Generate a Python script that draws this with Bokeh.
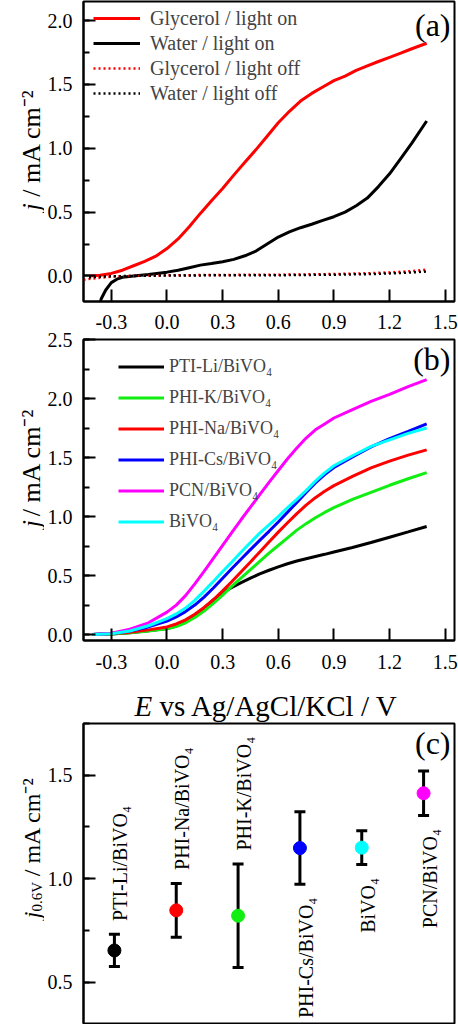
import numpy as np
from bokeh.plotting import figure
from bokeh.models import (ColumnDataSource, Legend, LegendItem, Label, FixedTicker, LinearAxis,
                          SingleIntervalTicker, PrintfTickFormatter, Whisker, TeeHead, Range1d,
                          CustomLabelingPolicy)
from bokeh.layouts import column, row
from bokeh.embed import file_html
from bokeh.resources import INLINE
from bokeh.core.properties import value

FONT = "Liberation Serif"

# ---------------- data: panel (a) ----------------
E_gly_on = [-0.42, -0.36, -0.30, -0.24, -0.18, -0.12, -0.06, 0.0, 0.06, 0.12, 0.18, 0.24, 0.30,
            0.36, 0.42, 0.48, 0.54, 0.60, 0.66, 0.72, 0.78, 0.84, 0.90, 0.96, 1.02, 1.08, 1.14,
            1.20, 1.26, 1.32, 1.40]
J_gly_on = [0.0, 0.005, 0.02, 0.045, 0.08, 0.115, 0.155, 0.215, 0.29, 0.385, 0.49, 0.59, 0.685,
            0.79, 0.89, 0.99, 1.095, 1.20, 1.29, 1.37, 1.43, 1.48, 1.53, 1.565, 1.61, 1.645, 1.68,
            1.713, 1.745, 1.78, 1.823]
E_wat_on = [-0.365, -0.355, -0.33, -0.30, -0.27, -0.24, -0.18, -0.10, 0.0, 0.06, 0.12, 0.18, 0.24,
            0.30, 0.36, 0.42, 0.48, 0.54, 0.60, 0.66, 0.72, 0.78, 0.84, 0.90, 0.96, 1.02, 1.08,
            1.14, 1.20, 1.26, 1.32, 1.40]
J_wat_on = [-0.25, -0.18, -0.11, -0.052, -0.025, -0.01, 0.0, 0.012, 0.03, 0.045, 0.065, 0.085,
            0.098, 0.112, 0.13, 0.158, 0.195, 0.25, 0.305, 0.345, 0.378, 0.405, 0.435, 0.464, 0.50,
            0.55, 0.61, 0.70, 0.80, 0.92, 1.04, 1.214]
E_gly_off = [-0.45, -0.40, -0.30, -0.20, 0.0, 0.30, 0.60, 0.90, 1.10, 1.20, 1.30, 1.40]
J_gly_off = [-0.03, -0.02, -0.005, 0.0, 0.005, 0.008, 0.01, 0.015, 0.022, 0.028, 0.036, 0.05]
E_wat_off = [-0.42, -0.40, -0.30, -0.20, 0.0, 0.30, 0.60, 0.90, 1.10, 1.20, 1.30, 1.40]
J_wat_off = [-0.012, -0.008, -0.003, 0.0, 0.004, 0.005, 0.006, 0.01, 0.015, 0.02, 0.026, 0.035]

# ---------------- data: panel (b) ----------------
E_b = [-0.40, -0.30, -0.20, -0.10, 0.0, 0.05, 0.10, 0.15, 0.20, 0.25, 0.30, 0.35, 0.40, 0.45,
       0.50, 0.55, 0.60, 0.65, 0.70, 0.75, 0.80, 0.85, 0.90, 1.00, 1.10, 1.20, 1.30, 1.40]
J_PTI_Li = [0.0, 0.005, 0.015, 0.032, 0.052, 0.073, 0.106, 0.155, 0.222, 0.294, 0.358, 0.40, 0.44,
            0.478, 0.515, 0.545, 0.574, 0.60, 0.623, 0.643, 0.662, 0.68, 0.70, 0.738, 0.78,
            0.825, 0.87, 0.916]
J_PHI_K = [0.0, 0.005, 0.015, 0.03, 0.05, 0.068, 0.10, 0.145, 0.20, 0.265, 0.335, 0.41, 0.48,
           0.55, 0.62, 0.69, 0.755, 0.82, 0.885, 0.94, 0.99, 1.035, 1.075, 1.145, 1.205, 1.265,
           1.32, 1.372]
J_PHI_Na = [0.0, 0.008, 0.02, 0.04, 0.065, 0.09, 0.125, 0.172, 0.23, 0.295, 0.37, 0.45, 0.533,
            0.615, 0.70, 0.785, 0.868, 0.948, 1.025, 1.097, 1.16, 1.215, 1.262, 1.34, 1.412, 1.47,
            1.52, 1.565]
J_PHI_Cs = [0.0, 0.01, 0.03, 0.065, 0.115, 0.15, 0.195, 0.25, 0.318, 0.395, 0.478, 0.56, 0.64,
            0.72, 0.798, 0.875, 0.954, 1.037, 1.12, 1.205, 1.285, 1.355, 1.415, 1.505, 1.59, 1.66,
            1.722, 1.785]
J_PCN = [0.0, 0.012, 0.045, 0.10, 0.19, 0.25, 0.33, 0.43, 0.535, 0.645, 0.755, 0.865, 0.975,
         1.08, 1.185, 1.29, 1.39, 1.49, 1.58, 1.665, 1.735, 1.785, 1.835, 1.905, 1.975, 2.035,
         2.10, 2.16]
J_BiVO4 = [0.0, 0.008, 0.03, 0.075, 0.135, 0.175, 0.225, 0.29, 0.368, 0.45, 0.535, 0.615, 0.70,
           0.78, 0.86, 0.93, 1.0, 1.075, 1.145, 1.22, 1.30, 1.37, 1.43, 1.515, 1.595, 1.65,
           1.705, 1.75]
b_names = ["PTI-Li/BiVO\u2084", "PHI-K/BiVO\u2084", "PHI-Na/BiVO\u2084", "PHI-Cs/BiVO\u2084",
           "PCN/BiVO\u2084", "BiVO\u2084"]
b_series = [J_PTI_Li, J_PHI_K, J_PHI_Na, J_PHI_Cs, J_PCN, J_BiVO4]
b_colors = ["#000000", "#11ee11", "#ff0000", "#0000ff", "#ff00ff", "#00ffff"]

# ---------------- data: panel (c) ----------------
c_names = ["PTI-Li/BiVO\u2084", "PHI-Na/BiVO\u2084", "PHI-K/BiVO\u2084", "PHI-Cs/BiVO\u2084",
           "BiVO\u2084", "PCN/BiVO\u2084"]
c_j06 = [0.653, 0.847, 0.821, 1.148, 1.150, 1.413]
c_err = [0.078, 0.13, 0.25, 0.175, 0.082, 0.108]
c_colors = ["#000000", "#ff0000", "#11ee11", "#0000ff", "#00ffff", "#ff00ff"]
c_place = ["above", "above", "above", "below", "below", "below"]

x_ticks = [-0.3, 0.0, 0.3, 0.6, 0.9, 1.2, 1.5]

LW = 44          # width of the side strip that carries the y titles
PW = 458 - LW    # width of each panel figure


def style(p, xticks=True):
    p.grid.grid_line_color = None
    p.outline_line_color = "black"
    p.outline_line_width = 2
    p.background_fill_color = "white"
    p.border_fill_color = "white"
    for ax in p.axis:
        ax.axis_line_width = 2
        ax.major_tick_line_width = 2
        ax.minor_tick_line_width = 2
        ax.major_tick_out = 0
        ax.major_tick_in = 12
        ax.minor_tick_out = 0
        ax.minor_tick_in = 6
        ax.major_label_text_font = FONT
        ax.major_label_text_font_size = "20px"
        ax.major_label_text_color = "black"
        ax.major_label_standoff = 11
    p.yaxis.ticker = SingleIntervalTicker(interval=0.5, num_minor_ticks=2)
    p.yaxis.formatter = PrintfTickFormatter(format="%.1f")
    if xticks:
        p.xaxis.ticker = FixedTicker(ticks=x_ticks)
        p.xaxis.formatter = PrintfTickFormatter(format="%.1f")
        p.xaxis.minor_tick_line_color = None


def panel_tag(p, text, y):
    p.add_layout(Label(x=367, y=y, x_units="screen", y_units="screen", text=text,
                       text_font=FONT, text_font_size="32px", text_align="right",
                       text_baseline="middle", text_color="black"))


def strip(width, top, bottom):
    """A blank figure whose data units are page pixels (y grows downward)."""
    s = figure(width=width, height=bottom - top, x_range=Range1d(0, width),
               y_range=Range1d(bottom, top), output_backend="svg", toolbar_location=None,
               x_axis_location=None, y_axis_location=None, min_border=0,
               min_border_left=0, min_border_right=0, min_border_top=0, min_border_bottom=0)
    s.grid.grid_line_color = None
    s.outline_line_color = None
    return s


def txt(s, x, y, text, size, italic=False, angle=0.0, align="left"):
    s.text(x=[x], y=[y], text=[text], angle=angle, text_font=value(FONT),
           text_font_size=value(f"{size}px"),
           text_font_style="italic" if italic else "normal",
           text_align=align, text_baseline="alphabetic", text_color="black")


def ytitle(s, xb, y0, size, sub=None, sub_size=14):
    up = np.pi / 2
    txt(s, xb, y0, "j", size, italic=True, angle=up)
    y = y0 - 0.278 * size
    if sub is not None:
        txt(s, xb + 5, y, sub, sub_size, angle=up)
        y -= 1.97 * sub_size
    y -= 0.25 * size
    txt(s, xb, y, "/ mA cm\u207b\u00b2", size, angle=up)


# ================= panel (a) =================
pa = figure(width=PW, height=303, x_range=Range1d(-0.45, 1.55), y_range=Range1d(-0.2, 2.15),
            output_backend="svg", toolbar_location=None,
            min_border_left=83 - LW, min_border_right=4, min_border_top=1, min_border_bottom=2)
style(pa)
# the tick labels for this frame are drawn by panel (b)'s top axis
pa.xaxis.major_label_text_font_size = "0px"
pa.xaxis.major_label_policy = CustomLabelingPolicy(code="return []")
pa.xaxis.major_label_standoff = 0
ra1 = pa.line(E_gly_on, J_gly_on, line_color="#ff0000", line_width=3)
ra2 = pa.line(E_wat_on, J_wat_on, line_color="black", line_width=3)
ra3 = pa.line(E_gly_off, J_gly_off, line_color="#ff0000", line_width=2.5, line_dash="2 3")
ra4 = pa.line(E_wat_off, J_wat_off, line_color="black", line_width=2.5, line_dash="2 3")
leg_a = Legend(items=[LegendItem(label="Glycerol / light on", renderers=[ra1]),
                      LegendItem(label="Water / light on", renderers=[ra2]),
                      LegendItem(label="Glycerol / light off", renderers=[ra3]),
                      LegendItem(label="Water / light off", renderers=[ra4])],
               location=(10, 196), label_text_font=FONT, label_text_font_size="20px",
               glyph_width=47, glyph_height=24, label_height=24, spacing=1, padding=0, margin=0,
               border_line_color=None, background_fill_alpha=0, label_standoff=10)
pa.add_layout(leg_a)
panel_tag(pa, "(a)", 277)
sa = strip(LW, 0, 303)
ytitle(sa, 31, 211, 26)

# ================= panel (b) =================
pb = figure(width=PW, height=377, x_range=Range1d(-0.45, 1.55), y_range=Range1d(-0.05, 2.5),
            output_backend="svg", toolbar_location=None,
            min_border_left=83 - LW, min_border_right=4, min_border_top=36, min_border_bottom=40)
style(pb)
pb.xaxis.major_label_standoff = 14
# tick labels that belong under panel (a)'s frame
top_ax = LinearAxis(ticker=FixedTicker(ticks=x_ticks), formatter=PrintfTickFormatter(format="%.1f"),
                    axis_line_color=None, major_tick_line_color=None, minor_tick_line_color=None,
                    major_label_standoff=5, major_label_text_font=FONT,
                    major_label_text_font_size="20px", major_label_text_color="black")
pb.add_layout(top_ax, "above")
items_b = []
for name, ys, col in zip(b_names, b_series, b_colors):
    r = pb.line(E_b, ys, line_color=col, line_width=3)
    items_b.append(LegendItem(label=name, renderers=[r]))
leg_b = Legend(items=items_b, location=(35, 108), label_text_font=FONT,
               label_text_font_size="18px", glyph_width=46, glyph_height=21, label_height=21,
               spacing=10, padding=0, margin=0, border_line_color=None,
               background_fill_alpha=0, label_standoff=5)
pb.add_layout(leg_b)
panel_tag(pb, "(b)", 282)
sb = strip(LW, 303, 680)
ytitle(sb, 31, 538, 26)

# x title under panel (b)
sx = strip(458, 680, 722)
txt(sx, 134, 705, "E", 29, italic=True)
txt(sx, 134 + 0.611 * 29 + 0.25 * 29, 705, "vs Ag/AgCl/KCl / V", 29)

# ================= panel (c) =================
pc = figure(width=PW, height=302, x_range=Range1d(0.5, 6.5), y_range=Range1d(0.3, 1.75),
            output_backend="svg", toolbar_location=None,
            min_border_left=83 - LW, min_border_right=4, min_border_top=1, min_border_bottom=1)
style(pc, xticks=False)
pc.xaxis.visible = False
pos = list(range(1, len(c_names) + 1))
src_c = ColumnDataSource(dict(x=pos, y=c_j06,
                              upper=[v + e for v, e in zip(c_j06, c_err)],
                              lower=[v - e for v, e in zip(c_j06, c_err)],
                              color=c_colors))
pc.add_layout(Whisker(source=src_c, base="x", upper="upper", lower="lower", dimension="height",
                      line_color="black", line_width=3,
                      upper_head=TeeHead(size=11, line_width=3, line_color="black"),
                      lower_head=TeeHead(size=11, line_width=3, line_color="black")))
pc.scatter("x", "y", source=src_c, size=13, fill_color="color", line_color="color")
gap = 0.065
ab = [i for i, pl in enumerate(c_place) if pl == "above"]
be = [i for i, pl in enumerate(c_place) if pl == "below"]
src_ab = ColumnDataSource(dict(x=[pos[i] for i in ab],
                               y=[c_j06[i] + c_err[i] + gap for i in ab],
                               text=[c_names[i] for i in ab]))
src_be = ColumnDataSource(dict(x=[pos[i] for i in be],
                               y=[c_j06[i] - c_err[i] - gap for i in be],
                               text=[c_names[i] for i in be]))
for src, al in ((src_ab, "left"), (src_be, "right")):
    pc.text(x="x", y="y", text="text", source=src, angle=np.pi / 2, text_align=al,
            text_baseline="alphabetic", text_font=value(FONT), text_font_size=value("20px"),
            x_offset=6, text_color="black")
panel_tag(pc, "(c)", 281)
sc = strip(LW, 722, 1024)
ytitle(sc, 31, 918, 24, sub="0.6V", sub_size=15)

layout = column(row(sa, pa, spacing=0), row(sb, pb, spacing=0), sx,
                row(sc, pc, spacing=0), spacing=0)
open("out.html", "w").write(file_html(layout, INLINE))
